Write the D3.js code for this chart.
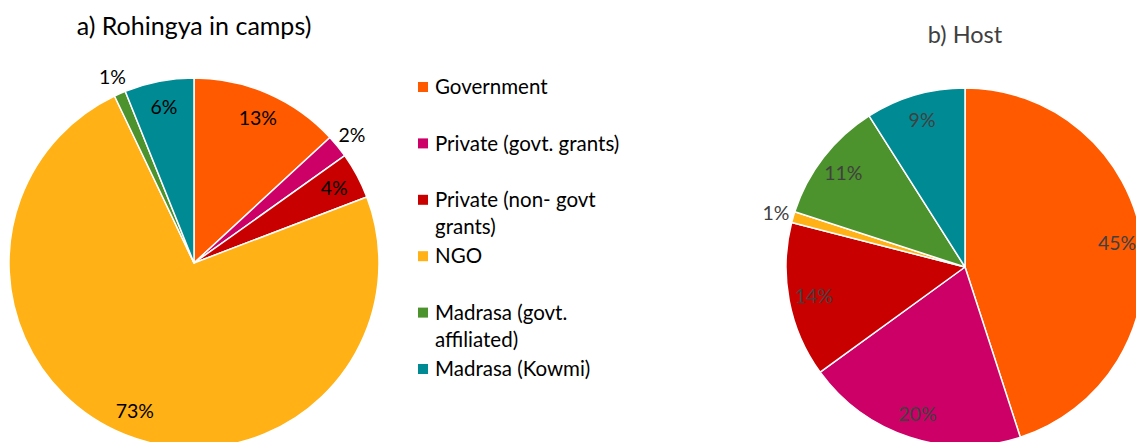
<!DOCTYPE html>
<html>
<head>
<meta charset="utf-8">
<script src="https://cdn.jsdelivr.net/npm/d3@7"></script>
<style>
  html, body { margin: 0; padding: 0; background: #fff; }
  svg { display: block; font-family: Lato, "Noto Sans", sans-serif; }
</style>
</head>
<body>
<svg id="chart" width="1136" height="442"></svg>
<script>
// School provider categories (shared by both pies and the legend)
const categories = [
  "Government",
  "Private (govt. grants)",
  "Private (non- govt grants)",
  "NGO",
  "Madrasa (govt. affiliated)",
  "Madrasa (Kowmi)"
];
const legendLines = [
  ["Government"],
  ["Private (govt. grants)"],
  ["Private (non- govt", "grants)"],
  ["NGO"],
  ["Madrasa (govt.", "affiliated)"],
  ["Madrasa (Kowmi)"]
];
const colors = ["#FF5A00", "#CC0066", "#C80000", "#FFB115", "#4C922D", "#008B94"];

// Percent shares
const rohingyaValues = [13, 2, 4, 73, 1, 6];
const hostValues = [45, 20, 14, 1, 11, 9];

const svg = d3.select("#chart");

const color = d3.scaleOrdinal().domain(categories).range(colors);

function drawPie(opts) {
  const data = categories.map((c, i) => ({ cat: c, value: opts.values[i] }));
  const pie = d3.pie().sort(null).value(d => d.value);
  const arcs = pie(data);
  const arc = d3.arc().innerRadius(0).outerRadius(opts.r);
  const labelArc = d3.arc().innerRadius(opts.r * opts.labelK).outerRadius(opts.r * opts.labelK);
  const outerArc = d3.arc().innerRadius(opts.r * 1.1).outerRadius(opts.r * 1.1);

  const g = svg.append("g").attr("transform", `translate(${opts.cx},${opts.cy})`);
  g.selectAll("path")
    .data(arcs)
    .join("path")
    .attr("d", arc)
    .attr("fill", d => color(d.data.cat))
    .attr("stroke", "#fff")
    .attr("stroke-width", 1.5)
    .attr("stroke-linejoin", "round");

  g.selectAll("text.pct")
    .data(arcs)
    .join("text")
    .attr("class", "pct")
    .attr("transform", d => {
      const outside = d.data.value < 3;
      const p = outside ? outerArc.centroid(d) : labelArc.centroid(d);
      return `translate(${p[0]},${p[1]})`;
    })
    .attr("text-anchor", "middle")
    .attr("dominant-baseline", "central")
    .attr("fill", opts.textColor)
    .style("font-size", opts.labelSize + "px")
    .text(d => d.data.value + "%");

  svg.append("text")
    .attr("x", opts.titleX)
    .attr("y", opts.titleY)
    .attr("text-anchor", "middle")
    .attr("fill", opts.titleColor)
    .style("font-size", opts.titleSize + "px")
    .text(opts.title);
}

drawPie({
  values: rohingyaValues, cx: 194, cy: 263, r: 185, labelK: 0.86,
  textColor: "#000", labelSize: 19.5,
  title: "a) Rohingya in camps)", titleX: 194, titleY: 35, titleSize: 25, titleColor: "#000"
});

drawPie({
  values: hostValues, cx: 965, cy: 267, r: 179, labelK: 0.86,
  textColor: "#404040", labelSize: 19.5,
  title: "b) Host", titleX: 965, titleY: 43, titleSize: 23.5, titleColor: "#404040"
});

// Legend
const legend = svg.append("g").attr("transform", "translate(418,0)");
const legendY = d3.scalePoint().domain(categories).range([87, 369]);
const item = legend.selectAll("g")
  .data(categories)
  .join("g")
  .attr("transform", d => `translate(0,${legendY(d)})`);
item.append("rect")
  .attr("x", 0).attr("y", -5)
  .attr("width", 10).attr("height", 10)
  .attr("fill", d => color(d));
item.append("text")
  .attr("x", 17)
  .attr("fill", "#000")
  .style("font-size", "20.5px")
  .selectAll("tspan")
  .data((d, i) => legendLines[i])
  .join("tspan")
  .attr("x", 17)
  .attr("y", (d, j) => j * 27)
  .attr("dy", "0.35em")
  .text(d => d);
</script>
</body>
</html>
